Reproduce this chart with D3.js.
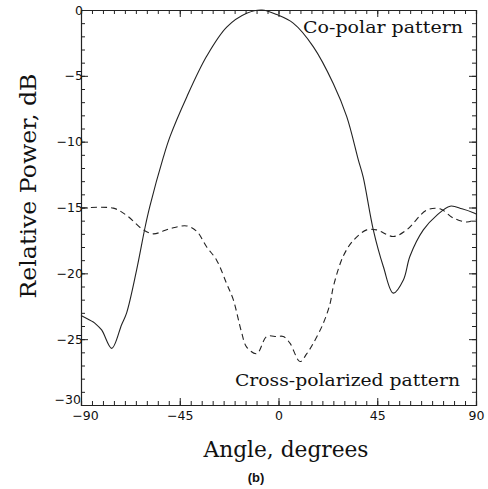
<!DOCTYPE html>
<html>
<head>
<meta charset="utf-8">
<script src="https://cdn.jsdelivr.net/npm/d3@7"></script>
<style>
	body { margin: 0; background: #fff; }
	text { fill: #111; }
</style>
</head>
<body>
<div class="chart"></div>
<script>
// co-polar pattern (solid)
const coAngle = [-90, -84.4, -83.6, -80.6, -76, -71.5, -69.2, -64.6, -60.8, -58.6, -52.5, -49.4, -41.8, -32.7, -23.6, -14.5, -7.5, -0.8, 6.7, 15.9, 25, 31.1, 36.4, 38.6, 43.2, 47.8, 52.3, 56.9, 59.9, 66, 72.1, 78.2, 83.6, 88.8, 90];
const coDb = [-23.2, -23.7, -23.8, -24.3, -25.7, -23.9, -23.0, -19.7, -16.5, -14.9, -11.2, -9.6, -6.6, -3.5, -1.3, -0.25, 0, -0.35, -1.0, -2.8, -5.6, -8.1, -11.4, -12.7, -16.7, -19.5, -21.5, -20.5, -18.7, -16.7, -15.6, -14.9, -15.1, -15.4, -15.5];

// cross-polarized pattern (dashed)
const xAngle = [-90, -75.3, -69.2, -61.6, -57, -49.4, -41.8, -37.3, -32.7, -28.2, -23.6, -20.6, -16.8, -14.5, -9.9, -5.4, -0.8, 2.2, 5.2, 9.8, 12.9, 15.9, 20.4, 23.5, 25, 29.5, 34.1, 40.2, 44.7, 52.3, 58.4, 67.5, 73.6, 79.7, 85.8, 90];
const xDb = [-15.05, -15.05, -15.6, -16.7, -17.0, -16.6, -16.4, -16.8, -18.0, -19.0, -20.8, -22.0, -24.5, -25.6, -26.1, -24.8, -24.8, -24.8, -25.3, -26.7, -26.1, -25.3, -23.8, -22.3, -21.0, -18.7, -17.5, -16.7, -16.7, -17.2, -16.7, -15.2, -15.1, -15.8, -16.1, -15.9];

const xMajor = [-90, -45, 0, 45, 90];
const yMajor = [0, -5, -10, -15, -20, -25, -30];

const width = 488;
const height = 489;
const margin = { top: 10, right: 12, bottom: 84, left: 81 };

const x = d3.scaleLinear().domain([-90, 90]).range([margin.left, width - margin.right]);
const y = d3.scaleLinear().domain([-30, 0]).range([height - margin.bottom, margin.top]);

const svg = d3.select(".chart").append("svg").attr("width", width).attr("height", height);

const xMinor = d3.range(-90, 91, 5);
const yMinor = d3.range(-30, 1, 1);
const tickFont = "'DejaVu Sans', sans-serif";
const fmt = (d) => (d < 0 ? "\u2212" + -d : d);

const styleAxis = (g) => {
	g.select(".domain").attr("stroke", "#222").attr("stroke-width", 1.2);
	g.selectAll(".tick line").attr("stroke", "#222");
	g.selectAll(".tick text").attr("font-family", tickFont).attr("font-size", 12.5).attr("fill", "#333");
};

// minor ticks on all four sides
svg.append("g").attr("transform", `translate(0,${y(-30)})`)
	.call(d3.axisBottom(x).tickValues(xMinor).tickSize(-4).tickFormat(""))
	.call(styleAxis);
svg.append("g").attr("transform", `translate(0,${y(0)})`)
	.call(d3.axisTop(x).tickValues(xMinor).tickSize(-4).tickFormat(""))
	.call(styleAxis);
svg.append("g").attr("transform", `translate(${x(-90)},0)`)
	.call(d3.axisLeft(y).tickValues(yMinor).tickSize(-4).tickFormat(""))
	.call(styleAxis);
svg.append("g").attr("transform", `translate(${x(90)},0)`)
	.call(d3.axisRight(y).tickValues(yMinor).tickSize(-4).tickFormat(""))
	.call(styleAxis);

// major ticks with labels
svg.append("g").attr("transform", `translate(0,${y(-30)})`)
	.call(d3.axisBottom(x).tickValues(xMajor).tickSize(-7).tickPadding(6).tickFormat(fmt))
	.call(styleAxis)
	.call((g) => g.select(".domain").remove())
	.call((g) => g.selectAll(".tick text").filter((d) => d === -90).attr("dx", 4));
svg.append("g").attr("transform", `translate(${x(-90)},0)`)
	.call(d3.axisLeft(y).tickValues(yMajor).tickSize(-7).tickPadding(-2).tickFormat(fmt))
	.call(styleAxis)
	.call((g) => g.select(".domain").remove())
	.call((g) => g.selectAll(".tick text").filter((d) => d === -30).attr("dy", "-0.1em").attr("dx", -2));
svg.append("g").attr("transform", `translate(0,${y(0)})`)
	.call(d3.axisTop(x).tickValues(xMajor).tickSize(-7).tickFormat(""))
	.call(styleAxis)
	.call((g) => g.select(".domain").remove());
svg.append("g").attr("transform", `translate(${x(90)},0)`)
	.call(d3.axisRight(y).tickValues(yMajor).tickSize(-7).tickFormat(""))
	.call(styleAxis)
	.call((g) => g.select(".domain").remove());

const line = d3.line().x((d) => x(d[0])).y((d) => y(d[1])).curve(d3.curveCatmullRom.alpha(0.5));

svg.append("path")
	.datum(d3.zip(coAngle, coDb))
	.attr("fill", "none")
	.attr("stroke", "#222")
	.attr("stroke-width", 1.1)
	.attr("d", line);

svg.append("path")
	.datum(d3.zip(xAngle, xDb))
	.attr("fill", "none")
	.attr("stroke", "#222")
	.attr("stroke-width", 1.1)
	.attr("stroke-dasharray", "6,4")
	.attr("d", line);

const serif = "'DejaVu Serif', 'Liberation Serif', serif";

svg.append("text")
	.attr("x", 303).attr("y", 33)
	.attr("font-family", serif).attr("font-size", 17)
	.attr("textLength", 160).attr("lengthAdjust", "spacingAndGlyphs")
	.text("Co-polar pattern");

svg.append("text")
	.attr("x", 235).attr("y", 386)
	.attr("font-family", serif).attr("font-size", 17)
	.attr("textLength", 225).attr("lengthAdjust", "spacingAndGlyphs")
	.text("Cross-polarized pattern");

svg.append("text")
	.attr("x", 286).attr("y", 457)
	.attr("text-anchor", "middle")
	.attr("font-family", serif).attr("font-size", 22)
	.attr("textLength", 165).attr("lengthAdjust", "spacingAndGlyphs")
	.text("Angle, degrees");

svg.append("text")
	.attr("transform", "translate(36,186) rotate(-90)")
	.attr("text-anchor", "middle")
	.attr("font-family", serif).attr("font-size", 22)
	.attr("textLength", 225).attr("lengthAdjust", "spacingAndGlyphs")
	.text("Relative Power, dB");

svg.append("text")
	.attr("x", 256).attr("y", 482)
	.attr("text-anchor", "middle")
	.attr("font-family", "'Liberation Sans', Arial, sans-serif").attr("font-size", 13)
	.attr("font-weight", "bold")
	.text("(b)");
</script>
</body>
</html>
